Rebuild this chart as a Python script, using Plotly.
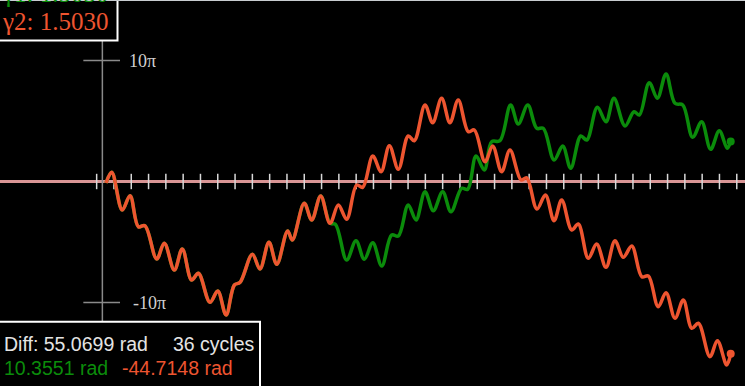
import plotly.graph_objects as go

# ---- data (time in drive cycles, angle in rad) ----
shared_t = [0.00, 0.33, 0.94, 1.39, 1.87, 2.25, 2.93, 3.37, 3.95, 4.41, 4.95, 5.34,
            6.01, 6.46, 6.94, 7.42, 7.75, 8.46, 8.90, 9.42, 9.87, 10.50, 10.77,
            11.46, 11.89, 12.41, 12.95]
shared_phi = [-0.39, 2.39, -7.40, -3.69, -11.73, -11.47, -20.12, -16.04, -22.97, -17.52,
              -25.57, -23.83, -31.36, -28.43, -34.66, -26.87, -26.17, -18.90, -22.72,
              -15.78, -21.50, -12.85, -15.19, -5.66, -9.99, -3.76, -10.85]

red_tail_t = [13.43, 13.91, 14.49, 14.84, 15.42, 15.90, 16.38, 16.90, 17.47, 17.82,
              18.44, 18.88, 19.40, 19.88, 20.36, 20.94, 21.29, 21.91, 22.35, 22.87,
              23.35, 23.99, 24.32, 24.91, 25.40, 25.90, 26.34, 26.92, 27.30, 27.88,
              28.36, 28.90, 29.42, 29.90, 30.39, 30.97, 31.35, 31.92, 32.37, 32.89,
              33.37, 33.86, 34.24, 34.91, 35.34, 35.88, 36.11]
red_tail_phi = [-6.10, -9.81, -0.91, -1.51, 6.62, 2.54, 9.29, 3.17, 11.81, 10.59,
                19.86, 15.26, 21.60, 15.26, 21.16, 12.93, 13.37, 5.14, 9.22, 2.54,
                8.18, 0.39, 0.96, -7.14, -3.50, -10.18, -4.80, -12.59, -11.03, -19.94,
                -16.23, -22.27, -15.37, -19.68, -16.74, -24.71, -24.53, -32.50, -28.87,
                -35.51, -30.76, -38.11, -36.81, -45.48, -41.33, -47.64, -44.71]

green_tail_t = [13.27, 13.91, 14.45, 14.93, 15.42, 15.94, 16.51, 16.90, 17.47, 17.92,
                18.44, 18.92, 19.46, 19.94, 20.56, 20.91, 21.39, 21.87, 22.29, 22.77,
                23.39, 23.83, 24.38, 24.90, 25.28, 25.90, 26.40, 26.86, 27.44, 27.79,
                28.40, 28.90, 29.36, 30.00, 30.52, 30.83, 31.40, 31.87, 32.37, 32.89,
                33.34, 33.91, 34.43, 34.95, 35.45, 35.91, 36.11]
green_tail_phi = [-11.16, -20.38, -15.37, -20.20, -15.89, -21.94, -13.89, -14.15, -6.10,
                  -9.99, -2.65, -7.58, -2.65, -7.84, -1.77, -2.02, 6.62, 2.99, 10.33,
                  10.59, 19.86, 14.93, 19.86, 13.81, 13.81, 5.58, 9.22, 3.43, 11.81,
                  10.77, 19.26, 15.52, 21.60, 14.41, 18.12, 17.26, 25.65, 21.60, 27.91,
                  20.30, 19.86, 11.47, 15.52, 8.36, 13.19, 8.62, 10.36]

red_t = shared_t + red_tail_t
red_phi = shared_phi + red_tail_phi
green_t = shared_t + green_tail_t
green_phi = shared_phi + green_tail_phi

gamma1_text = "γ1: 1.5030"
gamma2_text = "γ2: 1.5030"
diff_text = "Diff: 55.0699 rad"
cycles_text = "36 cycles"
green_final = "10.3551 rad"
red_final = "-44.7148 rad"

PI10 = 31.4159
y_tick_vals = [PI10, -PI10]
y_tick_labels = ["10π", "-10π"]
x_tick_start = -0.54
n_xticks = 38
axis_t = -0.21

RED = "#ee5530"
GREEN = "#0b8c0b"

XR = [-6.127, 36.936]
YR = [-53.09, 47.12]
W, H = 745, 386

fig = go.Figure()

# vertical axis
fig.add_trace(go.Scatter(x=[axis_t, axis_t], y=YR, mode="lines",
                         line=dict(color="#8a8a8a", width=1.5), hoverinfo="skip"))
# y ticks (cross marks)
for v in y_tick_vals:
    fig.add_trace(go.Scatter(x=[-1.31, 0.81], y=[v, v], mode="lines",
                             line=dict(color="#8a8a8a", width=1.5), hoverinfo="skip"))
# x ticks on the zero line
xt = [x_tick_start + k for k in range(n_xticks)]
fig.add_trace(go.Scatter(x=xt, y=[0] * len(xt), mode="markers",
                         marker=dict(symbol="line-ns", size=11,
                                     line=dict(color="#d8d8d8", width=1.5)),
                         hoverinfo="skip"))

# curves
fig.add_trace(go.Scatter(x=green_t, y=green_phi, mode="lines",
                         line=dict(color=GREEN, width=3.5, shape="spline", smoothing=1.0)))
fig.add_trace(go.Scatter(x=red_t, y=red_phi, mode="lines",
                         line=dict(color=RED, width=3.5, shape="spline", smoothing=1.0)))
fig.add_trace(go.Scatter(x=[green_t[-1]], y=[green_phi[-1]], mode="markers",
                         marker=dict(color=GREEN, size=8)))
fig.add_trace(go.Scatter(x=[red_t[-1]], y=[red_phi[-1]], mode="markers",
                         marker=dict(color=RED, size=8)))

def px(x):
    return x / W

def py(y):
    return 1 - y / H

shapes = [
    dict(type="rect", xref="paper", yref="paper", x0=px(-3), x1=px(117.5), y0=py(40.5), y1=py(-5),
         fillcolor="black", line=dict(color="white", width=2), layer="above"),
    dict(type="rect", xref="paper", yref="paper", x0=px(-3), x1=px(260), y0=py(391), y1=py(321.7),
         fillcolor="black", line=dict(color="white", width=2), layer="above"),
    dict(type="line", xref="paper", yref="paper", x0=0, x1=1, y0=py(0.5), y1=py(0.5),
         line=dict(color="#c8ccd0", width=1), layer="above"),
]

serif = "Liberation Serif"
sans = "Liberation Sans"
annotations = [
    dict(text=gamma1_text, x=px(0), y=py(-6.5), xref="paper", yref="paper", xanchor="left",
         yanchor="middle", showarrow=False, font=dict(family=serif, size=25, color=GREEN)),
    dict(text=gamma2_text, x=px(0), y=py(21.5), xref="paper", yref="paper", xanchor="left",
         yanchor="middle", showarrow=False, font=dict(family=serif, size=25, color=RED)),
    dict(text=y_tick_labels[0], x=px(126.5), y=py(61), xref="paper", yref="paper", xanchor="left",
         yanchor="middle", showarrow=False, font=dict(family=serif, size=18, color="#d0d0d0")),
    dict(text=y_tick_labels[1], x=px(131), y=py(303), xref="paper", yref="paper", xanchor="left",
         yanchor="middle", showarrow=False, font=dict(family=serif, size=18, color="#d0d0d0")),
    dict(text=diff_text, x=px(2), y=py(343.5), xref="paper", yref="paper", xanchor="left",
         yanchor="middle", showarrow=False, font=dict(family=sans, size=19.5, color="#e4e4e4")),
    dict(text=cycles_text, x=px(170.5), y=py(343.5), xref="paper", yref="paper", xanchor="left",
         yanchor="middle", showarrow=False, font=dict(family=sans, size=19.5, color="#e4e4e4")),
    dict(text=green_final, x=px(2), y=py(367.5), xref="paper", yref="paper", xanchor="left",
         yanchor="middle", showarrow=False, font=dict(family=sans, size=19.5, color=GREEN)),
    dict(text=red_final, x=px(119.5), y=py(367.5), xref="paper", yref="paper", xanchor="left",
         yanchor="middle", showarrow=False, font=dict(family=sans, size=19.5, color=RED)),
]

fig.update_layout(
    width=W, height=H, margin=dict(l=0, r=0, t=0, b=0),
    paper_bgcolor="black", plot_bgcolor="black", showlegend=False,
    xaxis=dict(range=XR, visible=False, fixedrange=True),
    yaxis=dict(range=YR, showgrid=False, showticklabels=False, showline=False,
               zeroline=True, zerolinecolor="#d99595", zerolinewidth=2.5, fixedrange=True),
    shapes=shapes, annotations=annotations, hovermode=False,
)

fig.write_html("out.html")
